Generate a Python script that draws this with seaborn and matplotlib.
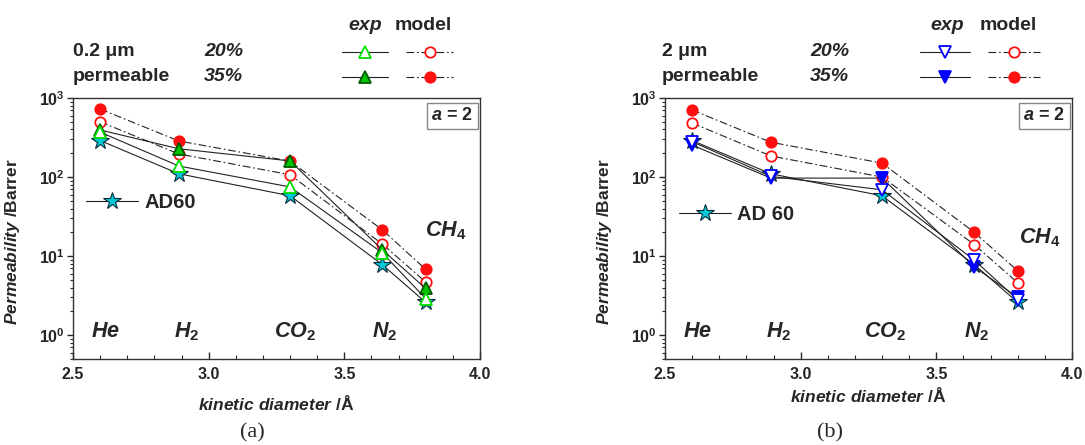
import numpy as np
import pandas as pd
import matplotlib
matplotlib.use("Agg")
import matplotlib.pyplot as plt
import matplotlib.ticker as mticker
from matplotlib.lines import Line2D
import seaborn as sns

# ---- data -------------------------------------------------------------
kinetic_diameter = [2.60, 2.89, 3.30, 3.64, 3.80]
gas_labels = ["$He$", "$H_2$", "$CO_2$", "$N_2$", "$CH_4$"]

# AD60 reference membrane
ad60 = [290, 110, 58, 7.8, 2.6]

# (a) 0.2 um permeable
a_exp20 = [370, 138, 75, 11.0, 2.9]
a_exp35 = [394, 228, 160, 12.0, 3.9]
a_mod20 = [500, 196, 107, 14.2, 4.7]
a_mod35 = [725, 286, 159, 21.5, 6.8]

# (b) 2 um permeable
b_exp20 = [280, 102, 69, 8.9, 2.8]
b_exp35 = [254, 97, 97, 7.3, 3.0]
b_mod20 = [483, 185, 100, 14.0, 4.6]
b_mod35 = [705, 276, 150, 20.0, 6.5]

x_ticks = [2.5, 3.0, 3.5, 4.0]
y_ticks = [1, 10, 100, 1000]
y_tick_labels = [r"$10^{0}$", r"$10^{1}$", r"$10^{2}$", r"$10^{3}$"]

# ---- style ------------------------------------------------------------
sns.set_style("ticks")
plt.rcParams["font.family"] = ["Liberation Sans", "DejaVu Sans"]
plt.rcParams["font.weight"] = "bold"
plt.rcParams["mathtext.fontset"] = "custom"
plt.rcParams["mathtext.rm"] = "Liberation Sans:bold"
plt.rcParams["mathtext.bf"] = "Liberation Sans:bold"
plt.rcParams["mathtext.it"] = "Liberation Sans:italic:bold"
plt.rcParams["axes.linewidth"] = 1.0

W, H = 1085, 445
fig = plt.figure(figsize=(W / 100, H / 100), dpi=100)


def fx(px):
    return px / W


def fy(py):
    return 1 - py / H


GREEN_OPEN = "#00dd00"
GREEN_FILL = "#00c400"
RED = "#ff1010"
BLUE = "#0000ff"
STAR_FACE = "#00c8d4"
STAR_EDGE = "#0a2a3a"
LINE = "#222222"
DASHDOT = (0, (7, 2.5, 1.5, 2.5))

ax_a = fig.add_axes([fx(73), fy(359), fx(407), 261 / H])
ax_b = fig.add_axes([fx(665), fy(359), fx(407), 261 / H])


def draw_series(ax, values, ls, marker, ms, mfc, mec, z, mew=1.3, label=None):
    df = pd.DataFrame({"d": kinetic_diameter, "P": values})
    sns.lineplot(data=df, x="d", y="P", ax=ax, sort=False, estimator=None,
                 color=LINE, lw=0.8, linestyle=ls, marker=marker, ms=ms,
                 markerfacecolor=mfc, markeredgecolor=mec, mew=mew,
                 zorder=z, label=label, legend=False)
    return ax.lines[-1]


def style_axes(ax):
    ax.set_yscale("log")
    ax.set_xlim(2.5, 4.0)
    ax.set_ylim(0.5, 1000)
    ax.set_xticks(x_ticks)
    ax.xaxis.set_major_formatter(mticker.FormatStrFormatter("%.1f"))
    ax.xaxis.set_minor_locator(mticker.MultipleLocator(0.1))
    ax.set_yticks(y_ticks)
    ax.set_yticklabels(y_tick_labels)
    ax.yaxis.set_minor_locator(mticker.LogLocator(base=10, subs=np.arange(2, 10)))
    ax.yaxis.set_minor_formatter(mticker.NullFormatter())
    ax.tick_params(axis="x", which="major", direction="in", length=5, width=1,
                   labelsize=11.5, pad=6)
    ax.tick_params(axis="x", which="minor", direction="in", length=3, width=0.8)
    ax.tick_params(axis="y", which="major", direction="out", length=4, width=1,
                   labelsize=11.5, pad=2)
    ax.tick_params(axis="y", which="minor", direction="out", length=2.5, width=0.8)
    for s in ax.spines.values():
        s.set_visible(True)
        s.set_color("#333333")
    ax.set_ylabel("$Permeability$ /Barrer", fontsize=12.5, fontweight="bold")
    ax.yaxis.set_label_coords(-0.125, 0.45)
    ax.text(0.983, 0.965, "$a$ = 2", transform=ax.transAxes, ha="right", va="top",
            fontsize=13, fontweight="bold",
            bbox=dict(boxstyle="square,pad=0.25", fc="white", ec="#888888", lw=1))


def panel(ax, exp20, exp35, mod20, mod35, tri, col_open, col_fill,
          edge_fill, ad_label, ad_pos, gas_pos, gas_ch4):
    draw_series(ax, mod35, DASHDOT, "o", 7.5, RED, RED, 3)
    draw_series(ax, mod20, DASHDOT, "o", 7.5, "white", RED, 3)
    star = draw_series(ax, ad60, "-", "*", 13, STAR_FACE, STAR_EDGE, 4,
                       mew=0.8, label=ad_label)
    draw_series(ax, exp35, "-", tri, 8.5, col_fill, edge_fill, 5)
    draw_series(ax, exp20, "-", tri, 8.5, "white", col_open, 5)
    style_axes(ax)
    ax.legend(handles=[star], labels=[ad_label], loc="center left",
              bbox_to_anchor=ad_pos, frameon=False,
              handlelength=2.6, handletextpad=0.3, borderpad=0, borderaxespad=0,
              numpoints=1, prop={"weight": "bold", "size": 14.5})
    for (gx, gy), lab in zip(gas_pos, gas_labels[:4]):
        ax.text(gx, gy, lab, ha="center", va="center", fontsize=15.5)
    ax.text(gas_ch4[0], gas_ch4[1], gas_labels[4], ha="center", va="center",
            fontsize=15.5)


panel(ax_a, a_exp20, a_exp35, a_mod20, a_mod35, "^", GREEN_OPEN, GREEN_FILL,
      "#005a00", "AD60", (0.032, 0.598),
      [(2.62, 1.12), (2.92, 1.12), (3.32, 1.12), (3.65, 1.12)], (3.875, 21))
panel(ax_b, b_exp20, b_exp35, b_mod20, b_mod35, "v", BLUE, BLUE,
      BLUE, "AD 60", (0.034, 0.552),
      [(2.62, 1.12), (2.92, 1.12), (3.31, 1.12), (3.65, 1.12)], (3.88, 17))

ax_a.set_xlabel("$kinetic\\ diameter$ /Å", fontsize=12.5, fontweight="bold")
ax_a.xaxis.set_label_coords(0.5, -0.17)
ax_a.xaxis.label.set_va("center")
ax_b.set_xlabel("$kinetic\\ diameter$ /Å", fontsize=12.5, fontweight="bold")
ax_b.xaxis.set_label_coords(0.5, -0.138)
ax_b.xaxis.label.set_va("center")

# ---- header keys --------------------------------------------------------


def key(x0, x1, y, ls, marker, ms, mfc, mec):
    fig.add_artist(Line2D([fx(x0), fx(x1)], [fy(y), fy(y)], color=LINE, lw=0.8,
                          linestyle=ls, transform=fig.transFigure))
    xc = (x0 + x1) / 2
    fig.add_artist(Line2D([fx(xc)], [fy(y)], marker=marker, ms=ms, mfc=mfc, mec=mec,
                          mew=1.3, linestyle="none", transform=fig.transFigure))


def header(left, pct_x, exp_c, mod_c, exp_key, mod_key, size_txt,
           tri, col_open, col_fill, edge_fill):
    fig.text(fx(left), fy(52), size_txt, fontsize=14, fontweight="bold", va="center")
    fig.text(fx(left), fy(77), "permeable", fontsize=14, fontweight="bold", va="center")
    fig.text(fx(pct_x), fy(52), "20%", fontsize=14, fontweight="bold",
             style="italic", va="center")
    fig.text(fx(pct_x), fy(77), "35%", fontsize=14, fontweight="bold",
             style="italic", va="center")
    fig.text(fx(exp_c), fy(25), "exp", fontsize=14, fontweight="bold",
             style="italic", ha="center", va="center")
    fig.text(fx(mod_c), fy(25), "model", fontsize=14, fontweight="bold",
             ha="center", va="center")
    key(exp_key[0], exp_key[1], 52, "-", tri, 8.5, "white", col_open)
    key(exp_key[0], exp_key[1], 77, "-", tri, 8.5, col_fill, edge_fill)
    key(mod_key[0], mod_key[1], 52, DASHDOT, "o", 7.5, "white", RED)
    key(mod_key[0], mod_key[1], 77, DASHDOT, "o", 7.5, RED, RED)


header(73, 204, 365, 423, (342, 388), (406, 453), "0.2 μm",
       "^", GREEN_OPEN, GREEN_FILL, "#005a00")
header(662, 810, 947, 1008, (920, 970), (988, 1040), "2 μm",
       "v", BLUE, BLUE, BLUE)

fig.text(fx(252), fy(433), "(a)", fontsize=16, family="Liberation Serif",
         fontweight="normal", ha="center", va="center")
fig.text(fx(830), fy(433), "(b)", fontsize=16, family="Liberation Serif",
         fontweight="normal", ha="center", va="center")

fig.savefig("out.png", dpi=100, facecolor="white")
